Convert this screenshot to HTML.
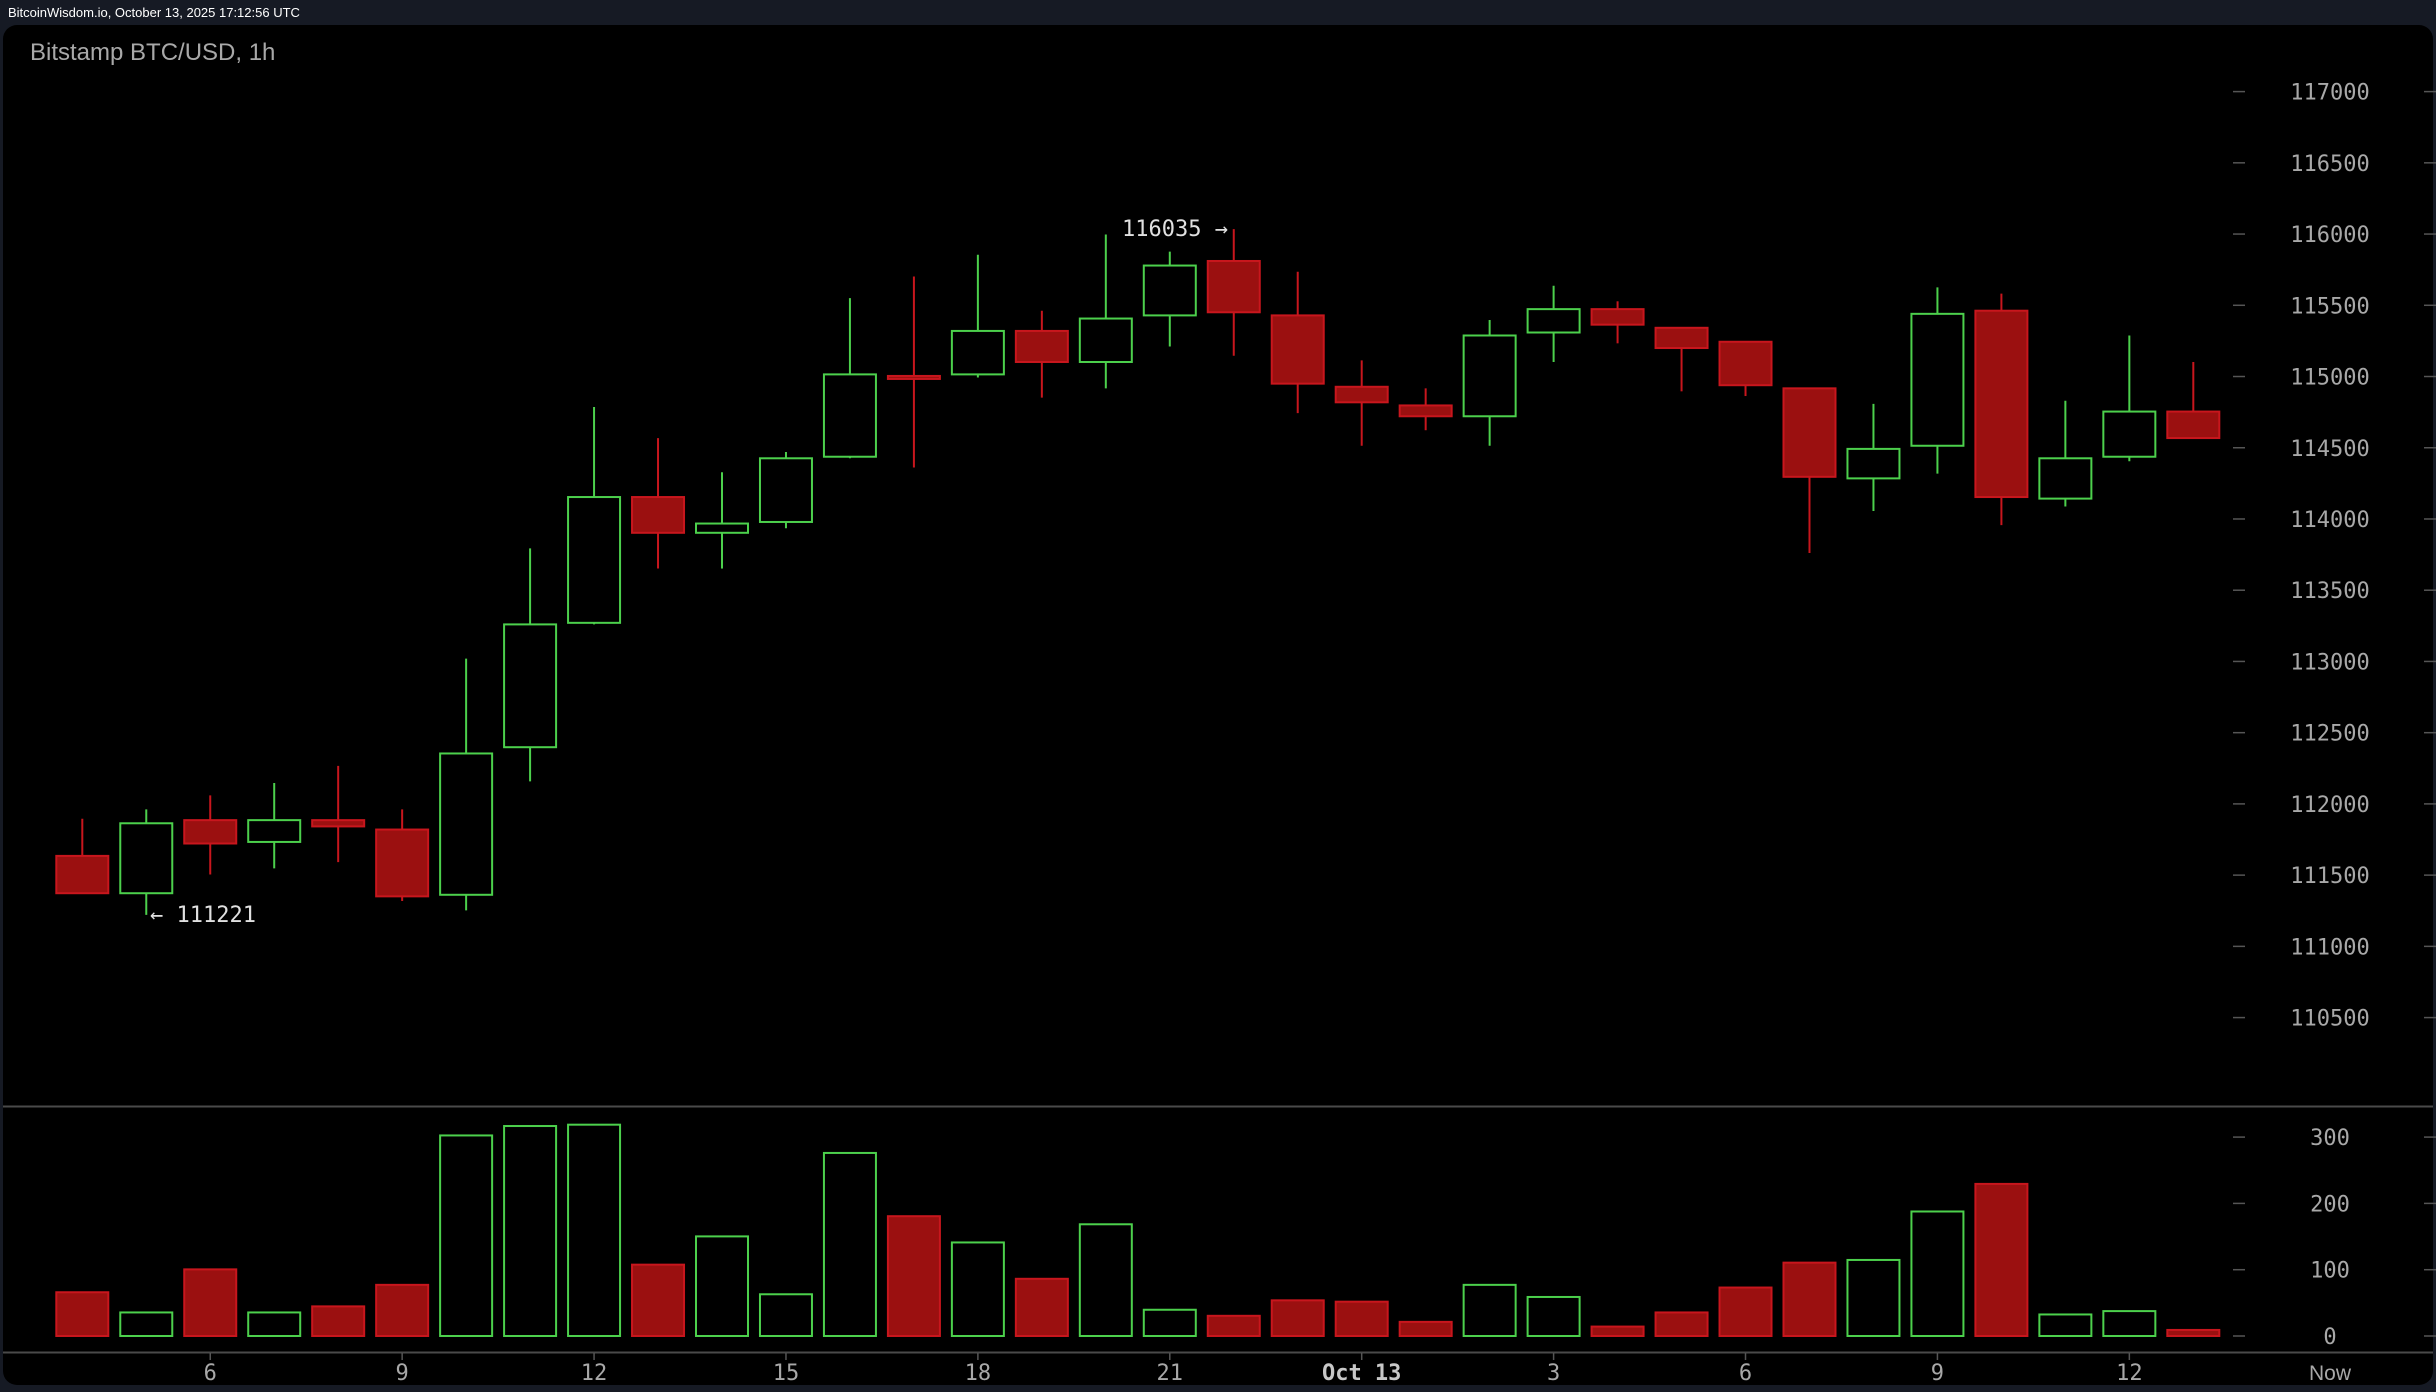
<!DOCTYPE html>
<html><head><meta charset="utf-8">
<style>
html,body{margin:0;padding:0;background:#161a24;width:2436px;height:1392px;overflow:hidden}
svg{display:block}
</style></head>
<body>
<svg id="c" xmlns="http://www.w3.org/2000/svg" width="2436" height="1392" viewBox="0 0 2436 1392">
<rect x="0" y="0" width="2436" height="1392" fill="#161a24"/>
<text x="8" y="17" fill="#ffffff" font-family="Liberation Sans, sans-serif" font-size="13">BitcoinWisdom.io, October 13, 2025 17:12:56 UTC</text>
<rect x="3" y="25" width="2430" height="1360" rx="14" fill="#000"/>
<text x="30" y="60" fill="#a8a8a8" font-family="Liberation Sans, sans-serif" font-size="24">Bitstamp BTC/USD, 1h</text>
<line x1="3" y1="1106.5" x2="2433" y2="1106.5" stroke="#4a4a4a" stroke-width="2"/>
<line x1="3" y1="1352.5" x2="2433" y2="1352.5" stroke="#4a4a4a" stroke-width="2"/>
<g id="g"></g>
</svg>
<script>
var g=document.getElementById('g');var ns='http://www.w3.org/2000/svg';
function el(t,a,txt){var e=document.createElementNS(ns,t);for(var k in a)e.setAttribute(k,a[k]);if(txt!==undefined)e.textContent=txt;g.appendChild(e);return e;}
function py(p){return 91.6+(117000-p)/500*71.23;}
function vy(v){return 1336-v*0.663;}
function vb(v){return 1336-v*0.673;}
var mono='DejaVu Sans Mono, Liberation Mono, monospace';
for(var p=110500;p<=117000;p+=500){var y=py(p);
 el('line',{x1:2233,y1:y,x2:2245,y2:y,stroke:'#555','stroke-width':1.5});
 el('line',{x1:2424,y1:y,x2:2436,y2:y,stroke:'#555','stroke-width':1.5});
 el('text',{x:2330,y:y+8,fill:'#a8a8a8','font-family':mono,'font-size':22,'text-anchor':'middle'},p);}
[0,100,200,300].forEach(function(v){var y=vy(v);
 el('line',{x1:2233,y1:y,x2:2245,y2:y,stroke:'#555','stroke-width':1.5});
 el('line',{x1:2424,y1:y,x2:2436,y2:y,stroke:'#555','stroke-width':1.5});
 el('text',{x:2330,y:y+8,fill:'#a8a8a8','font-family':mono,'font-size':22,'text-anchor':'middle'},v);});
var d=[[111635,111896,111373,111373,65],[111373,111962,111221,111864,35],[111886,112060,111504,111722,99],[111733,112147,111547,111886,35],[111886,112267,111591,111842,44],[111820,111962,111318,111351,76],[111362,113020,111253,112354,298],[112398,113794,112158,113260,312],[113271,114786,113260,114154,314],[114154,114568,113652,113903,106],[113903,114328,113652,113968,148],[113979,114470,113935,114426,62],[114437,115550,114426,115015,272],[115004,115702,114361,114993,178],[115015,115855,114993,115320,139],[115320,115462,114852,115102,85],[115102,115997,114917,115407,166],[115429,115877,115211,115779,39],[115811,116035,115146,115451,30],[115429,115735,114743,114950,53],[114928,115113,114514,114819,51],[114797,114917,114623,114721,21],[114721,115397,114514,115288,76],[115309,115637,115102,115473,58],[115473,115528,115233,115364,14],[115342,115342,114896,115200,35],[115244,115244,114863,114939,72],[114917,114917,113761,114296,109],[114285,114808,114056,114492,113],[114514,115626,114318,115440,185],[115462,115582,113957,114154,226],[114143,114830,114088,114426,32],[114437,115288,114405,114754,37],[114754,115102,114568,114568,9]];
var x0=82.3,sp=63.97,bw=52;
d.forEach(function(c,i){var x=x0+i*sp;var up=c[3]>=c[0];
 var col=up?'#4cd04c':'#c8161d';
 el('line',{x1:x,y1:py(c[1]),x2:x,y2:py(c[2]),stroke:col,'stroke-width':2});
 var t=py(Math.max(c[0],c[3])),b=py(Math.min(c[0],c[3]));if(b-t<3){b=t+3;}
 if(up){el('rect',{x:x-bw/2,y:t,width:bw,height:b-t,fill:'#000',stroke:col,'stroke-width':2});}
 else{el('rect',{x:x-bw/2,y:t,width:bw,height:b-t,fill:'#9b1010',stroke:col,'stroke-width':2});}
 var vt=vb(c[4]);
 if(up)el('rect',{x:x-bw/2,y:vt,width:bw,height:1336-vt,fill:'#000',stroke:col,'stroke-width':2});
 else el('rect',{x:x-bw/2,y:vt,width:bw,height:1336-vt,fill:'#9b1010',stroke:col,'stroke-width':2});
});
var xl=[[2,'6'],[5,'9'],[8,'12'],[11,'15'],[14,'18'],[17,'21'],[20,'Oct 13'],[23,'3'],[26,'6'],[29,'9'],[32,'12']];
xl.forEach(function(a){var x=x0+a[0]*sp;
 el('line',{x1:x,y1:1353,x2:x,y2:1360,stroke:'#555','stroke-width':1.5});
 el('text',{x:x,y:1380,fill:a[1]=='Oct 13'?'#c8c8c8':'#a8a8a8','font-family':mono,'font-size':22,'font-weight':a[1]=='Oct 13'?'bold':'normal','text-anchor':'middle'},a[1]);});
el('text',{x:2330,y:1380,fill:'#a8a8a8','font-family':'Liberation Sans, sans-serif','font-size':21,'text-anchor':'middle'},'Now');
el('text',{x:1122,y:236,fill:'#e0e0e0','font-family':mono,'font-size':22},'116035 →');
el('text',{x:150,y:922,fill:'#e0e0e0','font-family':mono,'font-size':22},'← 111221');
</script>
</body></html>
